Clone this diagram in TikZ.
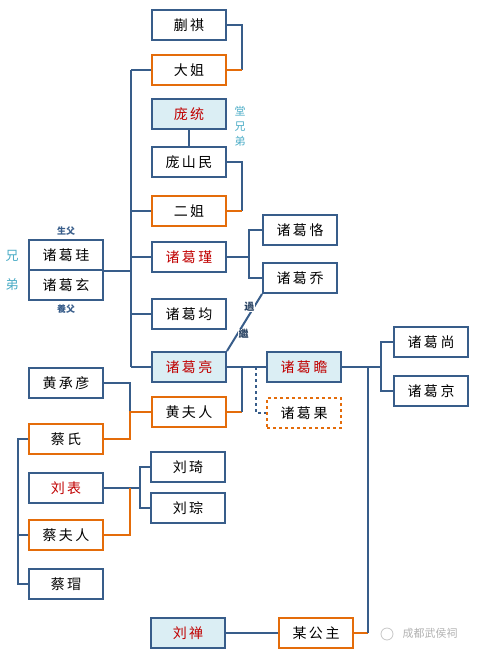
\documentclass[tikz,border=0pt]{standalone}
\usepackage{fontspec}
\newfontfamily\cjk{Noto Sans CJK SC}
\usepackage{tikz}
\usetikzlibrary{positioning}
\definecolor{lineblue}{HTML}{385D8A}
\definecolor{lineorange}{HTML}{E46C0A}
\definecolor{paleblue}{HTML}{DBEEF4}
\definecolor{namered}{HTML}{C00000}
\definecolor{noteteal}{HTML}{4BACC6}
\newcommand{\cg}{\hspace{2.5pt}}
\tikzset {
  x=1pt, y=-1pt,
  node distance={13pt},
  % person box
  person/.style = {draw=lineblue, line width=2pt, minimum width=74pt, minimum height=30pt,
    inner sep=0pt, font=\cjk\fontsize{14}{16}\selectfont},
  % wives and daughters married out
  wife/.style={person, draw=lineorange},
  % main line of the family
  lord/.style={person, fill=paleblue},
  redname/.style={text=namered},
  % connectors
  link/.style={draw=lineblue, line width=2pt},
  marry/.style={draw=lineorange, line width=2pt},
  adopt/.style={fill=white, inner sep=0.5pt, text=lineblue!70!black, font=\cjk\bfseries\fontsize{10}{11}\selectfont},
  kinnote/.style={text=noteteal, align=center, inner sep=0pt},
  fatherlabel/.style={text=lineblue, inner sep=0pt, font=\cjk\bfseries\fontsize{9}{10}\selectfont},
}
\begin{document}
\begin{tikzpicture}
        \useasboundingbox (0,0) rectangle (477,654);

        \coordinate (trunkx) at (131,0);
        \coordinate (sisx) at (242,0);
        \coordinate (keqiaox) at (249,0);
        \coordinate (guox) at (256,0);
        \coordinate (princessx) at (368,0);
        \coordinate (sonsx) at (381,0);
        \coordinate (huangx) at (130,0);
        \coordinate (liux) at (140,0);
        \coordinate (caix) at (18,0);

        % middle column
        \node[person] (kuaiqi) at (189,25) {蒯\cg 祺};
        \node[wife] (dajie) [below=of kuaiqi] {大\cg 姐};
        \node[lord, redname] (pangtong) [below=12pt of dajie] {庞\cg 统};
        \node[person] (pangshanmin) [below=16pt of pangtong] {庞\cg 山\cg 民};
        \node[wife] (erjie) [below=17pt of pangshanmin] {二\cg 姐};
        \node[person, redname] (jin) [below=14pt of erjie] {诸\cg 葛\cg 瑾};
        \node[person] (jun) [below=25pt of jin] {诸\cg 葛\cg 均};
        \node[lord, redname] (liang) [below=21pt of jun] {诸\cg 葛\cg 亮};
        \node[wife] (huangfuren) [below=of liang] {黄\cg 夫\cg 人};

        % fathers
        \node[person] (gui) at (66,255) {诸\cg 葛\cg 珪};
        \node[person] (xuan) [below=-2pt of gui] {诸\cg 葛\cg 玄};
        \node[fatherlabel] (shengfu) [above=3pt of gui] {生父};
        \node[fatherlabel] (yangfu) [below=4pt of xuan] {養父};
        \node[kinnote, font=\cjk\fontsize{13}{29}\selectfont] (xiongdi) at (12,270) {兄\\弟};
        \node[kinnote, font=\cjk\fontsize{11}{15}\selectfont] (tangxiongdi) at (240,126) {堂\\兄\\弟};

        % next generation
        \node[person] (ke) at (300,230) {诸\cg 葛\cg 恪};
        \node[person] (qiao) [below=16pt of ke] {诸\cg 葛\cg 乔};
        \node[lord, redname] (zhan) at (304,367) {诸\cg 葛\cg 瞻};
        \node[wife, dashed] (guo) [below=14pt of zhan] {诸\cg 葛\cg 果};
        \node[person] (shang) at (431,342) {诸\cg 葛\cg 尚};
        \node[person] (jing) [below=17pt of shang] {诸\cg 葛\cg 京};

        % Huang and Cai families
        \node[person] (chengyan) at (66,383) {黄\cg 承\cg 彦};
        \node[wife] (caishi) [below=24pt of chengyan] {蔡\cg 氏};
        \node[person, redname] (liubiao) [below=17pt of caishi] {刘\cg 表};
        \node[wife] (caifuren) [below=15pt of liubiao] {蔡\cg 夫\cg 人};
        \node[person] (caimao) [below=17pt of caifuren] {蔡\cg 瑁};
        \node[person] (liuqi) at (188,467) {刘\cg 琦};
        \node[person] (liucong) [below=9pt of liuqi] {刘\cg 琮};

        \node[lord, redname] (liushan) at (188,633) {刘\cg 禅};
        \node[wife] (gongzhu) [right=52pt of liushan] {某\cg 公\cg 主};

        % watermark
        \draw[gray!45, line width=0.8pt] (387,634) circle (6pt);
        \node[text=gray!60, inner sep=0pt, font=\cjk\fontsize{11}{13}\selectfont] (mark) at (430,633) {成都武侯祠};

        % trunk of the brothers and sisters
        \draw[link] (dajie.west -| trunkx) -- (liang.west -| trunkx);
        \foreach \n in {dajie, erjie, jin, jun, liang}
          \draw[link] (\n.west) -- (\n.west -| trunkx);
        \draw[link] (gui.south east) -- (gui.south east -| trunkx);

        \draw[link] (kuaiqi.east) -| (dajie.east -| sisx);
        \draw[marry] (dajie.east) -- (dajie.east -| sisx);
        \draw[link] (pangtong) -- (pangshanmin);
        \draw[link] (pangshanmin.east) -| (erjie.east -| sisx);
        \draw[marry] (erjie.east) -- (erjie.east -| sisx);

        \draw[link] (jin.east) -- (jin.east -| keqiaox);
        \draw[link] (ke.west) -| (qiao.west -| keqiaox) -- (qiao.west);
        \draw[link] (qiao.south west) -- node[adopt, pos=.22, xshift=-5pt] {過} node[adopt, pos=.7, xshift=6pt] {繼} (liang.north east);

        \draw[link] (liang) -- (zhan);
        \draw[marry] (huangfuren.east) -- (huangfuren.east -| sisx);
        \draw[link] (huangfuren.east -| sisx) -- (liang.east -| sisx);
        \draw[link, dashed] (liang.east -| guox) |- (guo.west);

        \draw[link] (zhan.east) -- (zhan.east -| sonsx);
        \draw[link] (shang.west) -| (jing.west -| sonsx) -- (jing.west);
        \draw[marry] (gongzhu.east) -- (gongzhu.east -| princessx);
        \draw[link] (gongzhu.east -| princessx) -- (zhan.east -| princessx);
        \draw[link] (liushan) -- (gongzhu);

        \draw[link] (chengyan.east) -| (huangfuren.west -| huangx);
        \draw[marry] (caishi.east) -| (huangfuren.west -| huangx) -- (huangfuren.west);

        \draw[link] (liubiao.east) -- (liubiao.east -| liux);
        \draw[link] (liuqi.west) -| (liucong.west -| liux) -- (liucong.west);
        \draw[marry] (caifuren.east) -| (liubiao.east -| huangx);

        \draw[link] (caishi.west) -| (caimao.west -| caix) -- (caimao.west);
        \draw[link] (caifuren.west) -- (caifuren.west -| caix);
      \end{tikzpicture}
\end{document}
